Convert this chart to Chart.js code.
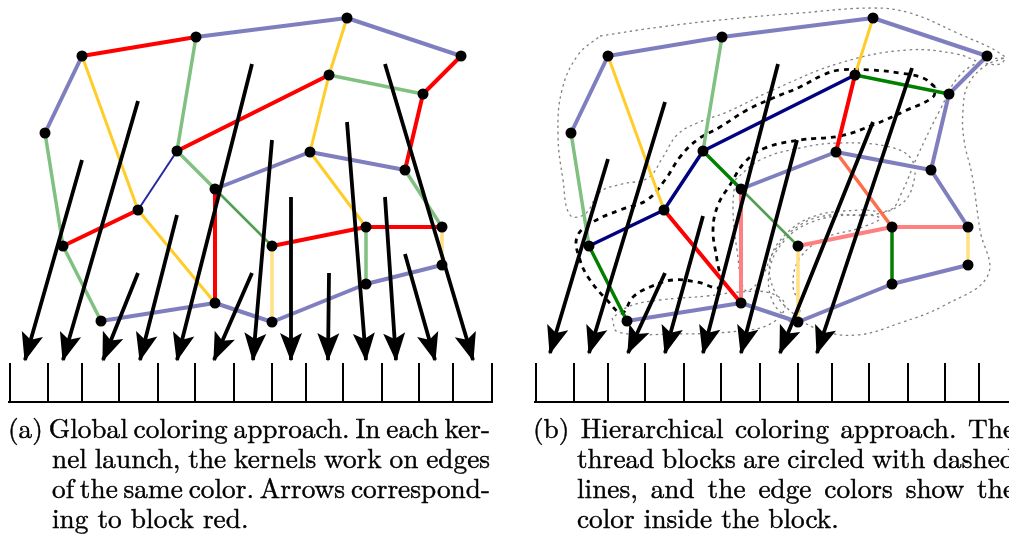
<!DOCTYPE html>
<html>
<head>
<meta charset="utf-8">
<script src="https://cdn.jsdelivr.net/npm/chart.js@4.4.0/dist/chart.umd.min.js"></script>
<style>
html, body { margin: 0; padding: 0; background: #fff; overflow: hidden; }
canvas { display: block; }
</style>
</head>
<body>
<canvas id="graphChart" width="1009" height="541"></canvas>
<script>
// node positions, graph (a) and graph (b) share the same y values
const nodeXA = [82, 196, 347, 461, 45, 177, 329, 423, 215, 310, 405, 138, 63, 272, 366, 442, 442, 366, 101, 215, 272];
const nodeXB = [608, 722, 873, 987, 571, 703, 855, 949, 741, 836, 931, 664, 589, 798, 892, 968, 968, 892, 627, 741, 798];
const nodeY  = [56, 37, 18, 56, 133, 151, 75, 94, 189, 152, 170, 210, 246, 246, 227, 227, 265, 284, 321, 303, 322];

// edges: [from, to, colour]
const edgesA = [
  [4, 0, 'purple'], [0, 1, 'red'], [1, 2, 'purple'], [2, 3, 'purple'], [0, 11, 'yellow'],
  [1, 5, 'green'], [2, 6, 'yellow'], [3, 7, 'red'], [6, 7, 'green'], [6, 5, 'red'],
  [6, 9, 'yellow'], [7, 10, 'red'], [4, 12, 'green'], [12, 11, 'red'], [11, 5, 'navyThin'],
  [5, 8, 'green'], [8, 13, 'midgreen'], [8, 9, 'purple'], [9, 10, 'purple'], [8, 19, 'red'],
  [11, 19, 'yellow'], [12, 18, 'green'], [18, 19, 'purple'], [19, 20, 'purple'], [20, 13, 'lightyellow'],
  [13, 14, 'red'], [14, 15, 'red'], [9, 14, 'yellow'], [10, 15, 'green'], [14, 17, 'green'],
  [15, 16, 'lightyellow'], [17, 16, 'purple'], [20, 17, 'purple']
];
const edgesB = [
  [4, 0, 'purple'], [0, 1, 'purple'], [1, 2, 'purple'], [2, 3, 'purple'], [0, 11, 'yellow'],
  [1, 5, 'green'], [2, 6, 'yellow'], [3, 7, 'purple'], [6, 7, 'darkgreen'], [6, 5, 'navy'],
  [6, 9, 'red'], [7, 10, 'purple'], [4, 12, 'green'], [12, 11, 'navy'], [11, 5, 'navy'],
  [5, 8, 'darkgreen'], [8, 13, 'midgreen'], [8, 9, 'purple'], [9, 10, 'purple'], [8, 19, 'pink'],
  [11, 19, 'red'], [12, 18, 'darkgreen'], [18, 19, 'purple'], [19, 20, 'purple'], [20, 13, 'lightyellow'],
  [13, 14, 'pink'], [14, 15, 'pink'], [9, 14, 'salmon'], [10, 15, 'purple'], [14, 17, 'darkgreen'],
  [15, 16, 'lightyellow'], [17, 16, 'purple'], [20, 17, 'purple']
];

// arrows: [tailX, tailY, tipX, tipY]
const arrowsA = [
  [82, 160, 25, 360], [138, 101, 63, 360], [138, 273, 103, 360], [177, 215, 140, 360],
  [252, 64, 177, 360], [252, 273, 214, 360], [272, 140, 253, 360], [291, 197, 291, 360],
  [329, 273, 328, 360], [347, 122, 366, 360], [385, 197, 396, 360], [405, 254, 435, 360],
  [385, 64, 473, 360]
];
const arrowsB = [
  [608, 159, 550, 353], [665, 102, 589, 353], [665, 273, 628, 353], [703, 216, 665, 353],
  [778, 64, 703, 353], [797, 140, 741, 353], [873, 122, 780, 353], [912, 68, 817, 353]
];

// block ruler under each graph
const rulerTicksA = [10, 48, 82, 119, 158, 195, 234, 272, 306, 343, 382, 419, 453, 492];
const rulerTicksB = [536, 574, 608, 645, 684, 721, 760, 798, 832, 869, 908, 945, 979];
const rulerSpanA = [8, 493];
const rulerSpanB = [534, 1009];
const rulerTop = 363;
const rulerBase = 402;

// thread block outlines in (b)
const blockTop = [[600,36],[660,27],[730,19],[800,13],[873,8],[910,13],[955,32],[1004,56],[1000,64],[980,62],[957,54],[907,50],[840,63],[773,90],[727,112],[697,123],[677,135],[663,157],[648,178],[622,184],[600,192],[585,214],[570,215],[563,180],[558,135],[562,90],[578,55],[600,36]];
const blockRight = [[1004,58],[985,66],[968,85],[963,110],[964,140],[972,175],[980,230],[988,275],[945,305],[900,323],[857,335],[820,330],[795,315],[775,292],[770,262],[785,235],[815,216],[860,210],[890,210],[902,192],[917,157],[940,110],[960,75],[985,60],[1004,58]];
const blockMiddle = [[735,180],[760,160],[800,148],[840,143],[890,147],[912,160],[913,185],[900,205],[870,215],[830,215],[800,225],[775,250],[760,280],[745,290],[737,250],[733,210],[735,180]];
const blockLower = [[612,318],[618,332],[673,334],[740,331],[772,323],[785,305],[770,293],[740,292],[707,296],[660,300],[630,306],[612,318]];
const blockInner = [[790,322],[772,300],[770,268],[785,240],[812,222],[850,215],[880,218],[860,228],[825,238],[800,258],[793,285],[800,310],[790,322]];
const blockRed = [[935,87],[923,78],[900,73],[870,70],[840,70],[823,75],[800,87],[773,98],[747,110],[720,127],[697,140],[680,157],[665,180],[647,200],[620,210],[593,222],[577,237],[580,260],[590,280],[607,300],[622,313],[633,297],[650,287],[673,280],[697,282],[720,287],[717,260],[713,230],[718,205],[730,185],[745,162],[765,148],[800,140],[840,136],[873,125],[907,110],[933,97],[935,87]];

const captionA = ['(a) Global coloring approach. In each ker-', 'nel launch, the kernels work on edges', 'of the same color. Arrows correspond-', 'ing to block red.'];
const captionB = ['(b) Hierarchical coloring approach.  The', 'thread blocks are circled with dashed', 'lines, and the edge colors show the', 'color inside the block.'];

const edgeStyle = {
  purple:      { color: 'rgb(127,127,191)', width: 4 },
  red:         { color: 'rgb(255,0,0)', width: 4 },
  yellow:      { color: 'rgb(255,204,40)', width: 3 },
  lightyellow: { color: 'rgb(255,224,130)', width: 3.5 },
  green:       { color: 'rgb(128,192,128)', width: 3.5 },
  midgreen:    { color: 'rgb(80,158,80)', width: 2.5 },
  darkgreen:   { color: 'rgb(0,128,0)', width: 3.5 },
  navy:        { color: 'rgb(0,0,128)', width: 3.5 },
  navyThin:    { color: 'rgb(40,40,160)', width: 2 },
  pink:        { color: 'rgb(255,128,128)', width: 4 },
  salmon:      { color: 'rgb(255,110,75)', width: 3.5 }
};
const captionFont = '27.3px "Latin Modern Roman"';

function edgeSets(edges, xs) {
  const byColour = {};
  edges.forEach(([a, b, c]) => {
    if (!byColour[c]) byColour[c] = [];
    byColour[c].push({ x: xs[a], y: nodeY[a] }, { x: xs[b], y: nodeY[b] }, { x: xs[b], y: null });
  });
  return Object.keys(byColour).map(c => ({
    data: byColour[c],
    showLine: true,
    borderColor: edgeStyle[c].color,
    borderWidth: edgeStyle[c].width,
    pointRadius: 0,
    order: 3
  }));
}

function nodeSet(xs) {
  return {
    data: xs.map((x, i) => ({ x: x, y: nodeY[i] })),
    showLine: false,
    pointRadius: 5.5,
    pointBackgroundColor: '#000',
    pointBorderWidth: 0,
    order: 2
  };
}

function arrowSet(arrows) {
  const data = [];
  arrows.forEach(a => data.push({ x: a[0], y: a[1] }, { x: a[2], y: a[3] }, { x: a[2], y: null }));
  return { data: data, showLine: true, borderColor: '#000', borderWidth: 3.8, pointRadius: 0, order: 1 };
}

function rulerSet(ticks, span) {
  const data = [{ x: span[0], y: rulerBase }, { x: span[1], y: rulerBase }, { x: span[1], y: null }];
  ticks.forEach(t => data.push({ x: t, y: rulerTop }, { x: t, y: rulerBase }, { x: t, y: null }));
  return { data: data, showLine: true, borderColor: '#000', borderWidth: 2, pointRadius: 0, order: 1 };
}

function outlineSet(path, dark) {
  return {
    data: path.map(p => ({ x: p[0], y: p[1] })),
    showLine: true,
    tension: 0.4,
    borderColor: dark ? '#000' : 'rgb(128,128,128)',
    borderWidth: dark ? 2.8 : 1.3,
    borderDash: dark ? [5, 5] : [2.5, 3.5],
    pointRadius: 0,
    order: 4
  };
}

// stealth arrow heads on top of the shafts
const arrowHeads = {
  id: 'arrowHeads',
  afterDatasetsDraw(chart) {
    const ctx = chart.ctx, sx = chart.scales.x, sy = chart.scales.y;
    ctx.save();
    ctx.fillStyle = '#000';
    arrowsA.concat(arrowsB).forEach(a => {
      const x0 = sx.getPixelForValue(a[0]), y0 = sy.getPixelForValue(a[1]);
      const x1 = sx.getPixelForValue(a[2]), y1 = sy.getPixelForValue(a[3]);
      const len = Math.hypot(x1 - x0, y1 - y0);
      const ux = (x1 - x0) / len, uy = (y1 - y0) / len;
      const nx = -uy, ny = ux;
      const L = 27, W = 11, notch = 6;
      const bx = x1 - ux * L, by = y1 - uy * L;
      ctx.beginPath();
      ctx.moveTo(x1 + ux * 1.5, y1 + uy * 1.5);
      ctx.lineTo(bx + nx * W, by + ny * W);
      ctx.lineTo(bx + ux * notch, by + uy * notch);
      ctx.lineTo(bx - nx * W, by - ny * W);
      ctx.closePath();
      ctx.fill();
    });
    ctx.restore();
  }
};

// justified captions under the graphs
const captionPlugin = {
  id: 'captions',
  afterDraw(chart) {
    const ctx = chart.ctx, sx = chart.scales.x, sy = chart.scales.y;
    ctx.save();
    ctx.font = captionFont;
    ctx.fillStyle = '#000';
    ctx.strokeStyle = '#000';
    ctx.lineWidth = 0.45;
    ctx.textAlign = 'left';
    ctx.textBaseline = 'alphabetic';
    const put = (s, x, y) => { ctx.fillText(s, x, y); ctx.strokeText(s, x, y); };
    const blocks = [
      { lines: captionA, first: 8, indent: 52, right: 490 },
      { lines: captionB, first: 533, indent: 577, right: 1015 }
    ];
    const baselines = [438, 468, 498, 528];
    blocks.forEach(b => {
      b.lines.forEach((line, i) => {
        const left = sx.getPixelForValue(i === 0 ? b.first : b.indent);
        const y = sy.getPixelForValue(baselines[i]);
        const words = line.split(/\s+/);
        if (i === b.lines.length - 1) {
          put(words.join(' '), left, y);
          return;
        }
        const widths = words.map(w => ctx.measureText(w).width);
        const total = widths.reduce((s, w) => s + w, 0);
        const gap = (sx.getPixelForValue(b.right) - left - total) / (words.length - 1);
        let x = left;
        words.forEach((w, k) => {
          put(w, x, y);
          x += widths[k] + gap;
        });
      });
    });
    ctx.restore();
  }
};

const datasets = [].concat(
  edgeSets(edgesA, nodeXA),
  edgeSets(edgesB, nodeXB),
  [nodeSet(nodeXA), nodeSet(nodeXB)],
  [arrowSet(arrowsA), arrowSet(arrowsB)],
  [rulerSet(rulerTicksA, rulerSpanA), rulerSet(rulerTicksB, rulerSpanB)],
  [outlineSet(blockTop), outlineSet(blockRight), outlineSet(blockMiddle), outlineSet(blockLower), outlineSet(blockInner), outlineSet(blockRed, true)]
);
datasets.forEach(d => { d.clip = false; d.borderCapStyle = 'butt'; });

new Chart(document.getElementById('graphChart'), {
  type: 'scatter',
  data: { datasets: datasets },
  options: {
    responsive: false,
    animation: false,
    devicePixelRatio: 1,
    events: [],
    layout: { padding: 0, autoPadding: false },
    scales: {
      x: { type: 'linear', min: 0, max: 1009, display: false },
      y: { type: 'linear', min: 0, max: 541, reverse: true, display: false }
    },
    plugins: { legend: { display: false }, tooltip: { enabled: false } }
  },
  plugins: [arrowHeads, captionPlugin]
});
</script>
</body>
</html>
